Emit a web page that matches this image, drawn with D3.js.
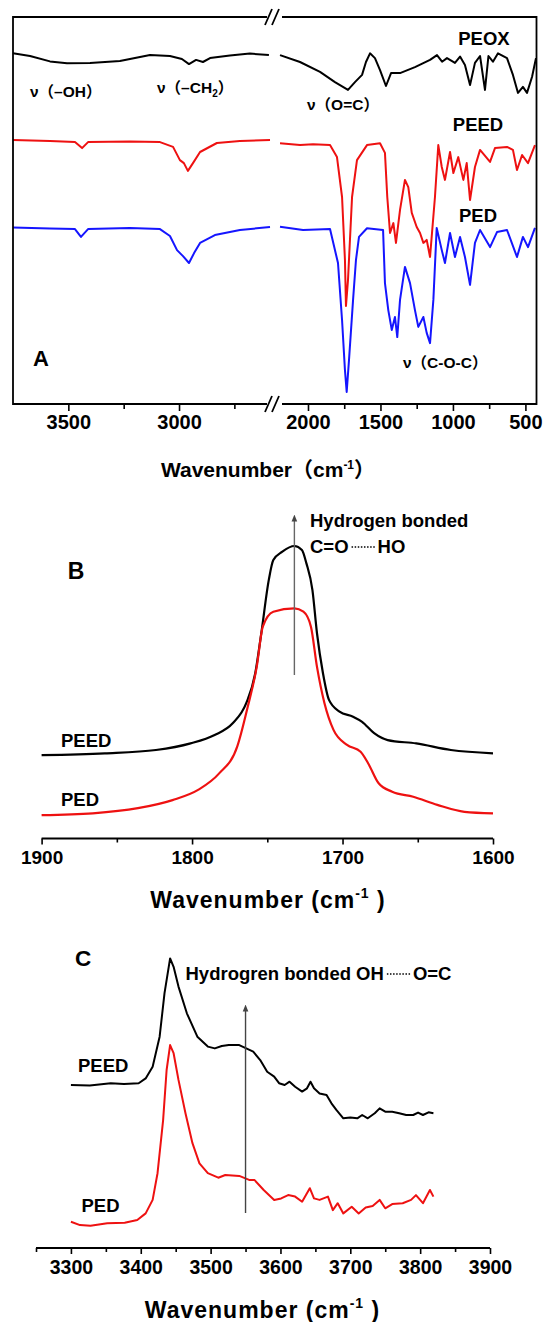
<!DOCTYPE html>
<html>
<head>
<meta charset="utf-8">
<script src="https://cdn.jsdelivr.net/npm/d3@7"></script>
<style>
  body { margin: 0; background: #fff; }
  svg { display: block; font-family: "Liberation Sans", Arial, "Noto Sans CJK SC", sans-serif; }
</style>
</head>
<body>
<svg width="543" height="1322"></svg>
<script>
// ---------- data : panel A (full FTIR, broken axis) ----------
const aTicksHigh = [3500, 3000];
const aTicksLow = [2000, 1500, 1000, 500];
const aMinorHigh = [3250, 2750];
const aMinorLow = [1750, 1250, 750];

// [wavenumber, transmittance a.u.]
const peoxHigh = [[3750,116.9],[3673,116],[3583,114.2],[3506,113.6],[3402,113.7],[3267,114.3],[3131,116.3],[3041,116],[2987,115],[2955,113.3],[2923,114.7],[2892,114],[2860,115.3],[2770,116.2],[2680,116.8],[2594,116.3]];
const peoxLow = [[2193,116.3],[2055,114],[1917,110.7],[1814,107.3],[1724,104.7],[1676,107.3],[1627,109.7],[1600,114],[1572,116.9],[1538,115.3],[1503,111.3],[1462,106],[1427,110.3],[1365,110.3],[1262,112.3],[1158,114.7],[1110,116.3],[1075,114.1],[1041,115.3],[1006,114.3],[986,113.7],[951,115.8],[917,113],[882,106.3],[848,113.7],[813,116],[779,104.7],[755,116],[724,114.1],[689,116.9],[627,115.3],[586,109.7],[551,103.7],[517,105.7],[489,103.7],[454,109.1],[427,115.3]];

const peedHigh = [[3750,88],[3583,87.7],[3470,87.3],[3438,85.3],[3411,87.3],[3222,87.5],[3086,87.3],[3027,85.7],[2996,81.3],[2978,80.3],[2960,77.7],[2937,80.3],[2905,84],[2829,87],[2725,87.7],[2589,88]];
const peedLow = [[2193,86.9],[2055,86.3],[1965,86.6],[1848,86.3],[1800,82.3],[1765,69],[1745,48],[1738,32.7],[1724,41.3],[1696,69],[1662,81.3],[1593,86.3],[1503,86.9],[1469,83.7],[1453,69],[1434,57],[1411,60.3],[1393,53.7],[1365,64.7],[1331,74.7],[1308,72.3],[1284,63.7],[1250,59],[1227,57],[1204,53.7],[1181,54.7],[1158,49],[1124,69],[1101,86.3],[1077,79],[1055,74.7],[1020,84],[997,77],[963,82.3],[928,74.7],[905,80.3],[882,68],[848,79],[813,84.7],[744,80.7],[710,85.3],[627,85.7],[586,84.7],[558,78],[523,83],[482,80.3],[434,86.3]];

const pedHigh = [[3750,58.8],[3583,58.5],[3470,58.3],[3443,55.7],[3411,58.3],[3222,58.7],[3086,58.3],[3041,56],[3009,51.3],[2982,49.3],[2955,47],[2932,50.3],[2905,53.7],[2838,56.3],[2725,58],[2589,59]];
const pedLow = [[2193,59.1],[2034,58],[1848,58.3],[1793,47],[1765,28],[1745,11.3],[1733,4],[1717,14.7],[1689,34.7],[1669,48],[1648,55.7],[1593,58.6],[1482,58],[1469,40.3],[1446,31.3],[1422,24.7],[1400,29],[1384,22.3],[1365,34.7],[1331,45.7],[1296,40.3],[1262,31.3],[1239,25.7],[1204,29],[1181,23.7],[1158,20.3],[1135,34.7],[1112,58.7],[1077,51.3],[1055,47],[1020,57],[986,49],[951,55.7],[917,49],[882,39.7],[848,53.7],[813,58],[744,52.3],[696,57.3],[627,58],[558,49],[517,55.7],[482,52.3],[434,58.7]];

// ---------- data : panel B (C=O region) ----------
const bTicks = [1900, 1800, 1700, 1600];
const bMinor = [1850, 1750, 1650];
const bPeed = [[1900,28.3],[1858,28.9],[1824,30],[1801,32.2],[1785,35],[1773,38.9],[1764,45.6],[1758,55.6],[1754,68.9],[1749,86.7],[1746,93.3],[1740,96.1],[1732,98],[1727,96.7],[1724,92.2],[1720,83.3],[1717,69],[1713,55.6],[1709,46.7],[1702,42.8],[1693,41.1],[1687,39.4],[1679,35.6],[1670,33.3],[1651,32.2],[1628,30],[1600,28.9]];
const bPed = [[1900,8.3],[1866,8.9],[1836,10.6],[1813,13.3],[1796,16.7],[1782,22.2],[1770,31.1],[1763,44.4],[1757,57.8],[1753,71.1],[1746,76.1],[1732,77.2],[1726,76.1],[1721,71.1],[1717,57.8],[1712,45.6],[1706,36.7],[1697,31.7],[1688,29.4],[1683,25.6],[1676,18.9],[1667,16.1],[1653,14.4],[1637,11.7],[1619,9.4],[1600,8.9]];

// ---------- data : panel C (OH region) ----------
const cTicks = [3300, 3400, 3500, 3600, 3700, 3800, 3900];
const cMinor = [3250, 3350, 3450, 3550, 3650, 3750, 3850];
const cPeed = [[3300,55],[3327,54.8],[3357,55.6],[3376,55.3],[3397,55.6],[3407,57.2],[3417,61.1],[3427,71.1],[3434,85.6],[3442,97.2],[3447,94.4],[3454,87.8],[3466,78.9],[3481,71.1],[3496,67.8],[3506,67.2],[3516,68],[3526,68.3],[3541,68.3],[3551,67.2],[3561,66.1],[3571,63.3],[3581,59.4],[3591,57.8],[3598,55.6],[3606,55],[3613,56.1],[3621,54.4],[3631,52.8],[3638,53.9],[3643,56.1],[3648,53.9],[3656,52.2],[3666,51.7],[3673,48.9],[3680,46.7],[3690,43.9],[3700,44.2],[3710,43.9],[3717,45],[3725,43.9],[3735,45.6],[3742,47.2],[3750,46.1],[3760,46.1],[3770,45.6],[3780,45],[3790,45],[3797,45.8],[3804,45],[3812,45.9],[3819,45.6]];
const cPed = [[3300,9.4],[3313,8.3],[3328,8.1],[3352,8.9],[3377,9.1],[3395,10],[3407,12.2],[3417,16.7],[3424,25.6],[3432,43.3],[3437,60],[3442,68.3],[3447,65.6],[3454,56.7],[3464,45.6],[3474,35.6],[3484,28.9],[3496,25.6],[3511,24.1],[3521,25],[3541,24.7],[3556,23.3],[3563,23.3],[3576,20],[3591,16.7],[3601,17.2],[3611,18.3],[3621,17.8],[3631,16.1],[3642,20.6],[3648,17.2],[3656,16.7],[3668,17.8],[3675,13.3],[3682,15.6],[3690,12.2],[3702,14.4],[3712,12.2],[3722,14.2],[3732,14.7],[3742,16.7],[3750,13.9],[3760,15.3],[3775,15.6],[3787,16.7],[3794,18.3],[3804,15.6],[3814,20],[3819,17.8]];

const RED = "#ee1111", BLUE = "#1515ff", BLACK = "#000";
const FONT = '"Liberation Sans", Arial, "Noto Sans CJK SC", sans-serif';

const svg = d3.select('svg');
svg.append('defs').append('marker')
  .attr('id', 'arrow')
  .attr('viewBox', '0 0 10 10')
  .attr('refX', 5).attr('refY', 5)
  .attr('markerWidth', 5).attr('markerHeight', 7)
  .attr('orient', 'auto')
  .append('path').attr('d', 'M0,1 L10,5 L0,9 Z').attr('fill', '#444');

function styleAxis(g, fs) {
  g.attr('font-family', FONT);
  g.select('.domain').remove();
  g.selectAll('line').attr('stroke', '#000').attr('stroke-width', 1.6);
  g.selectAll('text').attr('font-size', fs).attr('font-weight', 'bold').attr('fill', '#000');
}

function drawLine(g, data, xs, ys, color, w) {
  g.append('path')
    .datum(data)
    .attr('fill', 'none')
    .attr('stroke', color)
    .attr('stroke-width', w)
    .attr('stroke-linejoin', 'round')
    .attr('d', d3.line().x(d => xs(d[0])).y(d => ys(d[1])));
}

function label(x, y, txt, fs, anchor, weight) {
  return svg.append('text')
    .attr('x', x).attr('y', y)
    .attr('font-size', fs)
    .attr('font-weight', weight || 'bold')
    .attr('text-anchor', anchor || 'start')
    .text(txt);
}

// ================= Panel A =================
const aBox = {left: 13, right: 536.5, top: 17, bottom: 404, brkL: 267, brkR: 282};
const xAHigh = d3.scaleLinear().domain([3750, 2580]).range([13, 272]);
const xALow = d3.scaleLinear().domain([2200, 420]).range([279, 537]);
const yA = d3.scaleLinear().domain([0, 129]).range([aBox.bottom, aBox.top]);

const gA = svg.append('g');
drawLine(gA, peoxHigh, xAHigh, yA, BLACK, 2);
drawLine(gA, peoxLow, xALow, yA, BLACK, 2);
drawLine(gA, peedHigh, xAHigh, yA, RED, 2);
drawLine(gA, peedLow, xALow, yA, RED, 2);
drawLine(gA, pedHigh, xAHigh, yA, BLUE, 2);
drawLine(gA, pedLow, xALow, yA, BLUE, 2);

// frame with the break
const frame = gA.append('g').attr('stroke', '#000').attr('stroke-width', 1.8).attr('fill', 'none');
frame.append('path').attr('d',
  `M${aBox.brkL},${aBox.top} H${aBox.left} V${aBox.bottom} H${aBox.brkL}` +
  ` M${aBox.brkR},${aBox.top} H${aBox.right} V${aBox.bottom} H${aBox.brkR}`);
[aBox.top, aBox.bottom].forEach(yy => {
  frame.append('path').attr('d',
    `M${aBox.brkL - 2},${yy + 8} L${aBox.brkL + 5},${yy - 8} M${aBox.brkL + 5},${yy + 8} L${aBox.brkL + 12},${yy - 8}`);
});

// axes A
[[xAHigh, aTicksHigh, aMinorHigh], [xALow, aTicksLow, aMinorLow]].forEach(([xs, major, minor]) => {
  const gMaj = gA.append('g').attr('transform', `translate(0,${aBox.bottom})`)
    .call(d3.axisBottom(xs).tickValues(major).tickSize(7).tickPadding(4).tickSizeOuter(0).tickFormat(d3.format('d')));
  styleAxis(gMaj, 20);
  const gMin = gA.append('g').attr('transform', `translate(0,${aBox.bottom})`)
    .call(d3.axisBottom(xs).tickValues(minor).tickSize(5).tickFormat('').tickSizeOuter(0));
  styleAxis(gMin, 20);
});

const tA = label(268, 477, 'Wavenumber（cm', 21, 'middle');
tA.append('tspan').attr('dy', -8).attr('font-size', 12).text('-1');
tA.append('tspan').attr('dy', 8).text('）');

// annotations A
const nuFs = 15.5;
label(30, 97, 'ν（–OH）', nuFs);
const ch = label(157, 93, 'ν（–CH', nuFs);
ch.append('tspan').attr('dy', 4).attr('font-size', 10).text('2');
ch.append('tspan').attr('dy', -4).text('）');
label(307, 110, 'ν（O=C）', nuFs);
label(403, 368, 'ν（C-O-C）', nuFs);
label(484, 44.5, 'PEOX', 18.5, 'middle');
label(478, 130.5, 'PEED', 18.5, 'middle');
label(478, 221.5, 'PED', 18.5, 'middle');
label(41, 366, 'A', 22, 'middle');

// ================= Panel B =================
const bAxisY = 838.5;
const xB = d3.scaleLinear().domain([1900, 1600]).range([41.6, 493]);
const yB = d3.scaleLinear().domain([0, 110]).range([840, 510]);
const gB = svg.append('g');
const curveB = d3.line().curve(d3.curveMonotoneX).x(d => xB(d[0])).y(d => yB(d[1]));
gB.append('path').datum(bPeed).attr('fill', 'none').attr('stroke', BLACK).attr('stroke-width', 2.2).attr('d', curveB);
gB.append('path').datum(bPed).attr('fill', 'none').attr('stroke', RED).attr('stroke-width', 2.2).attr('d', curveB);

gB.append('line')
  .attr('x1', xB(1900)).attr('x2', xB(1600)).attr('y1', bAxisY).attr('y2', bAxisY)
  .attr('stroke', '#000').attr('stroke-width', 1.8);
const gBMaj = gB.append('g').attr('transform', `translate(0,${bAxisY})`)
  .call(d3.axisBottom(xB).tickValues(bTicks).tickSize(6).tickPadding(6).tickSizeOuter(0).tickFormat(d3.format('d')));
styleAxis(gBMaj, 19);
const gBMin = gB.append('g').attr('transform', `translate(0,${bAxisY})`)
  .call(d3.axisBottom(xB).tickValues(bMinor).tickSize(4).tickFormat('').tickSizeOuter(0));
styleAxis(gBMin, 19);

// arrow B
gB.append('line')
  .attr('x1', xB(1732)).attr('x2', xB(1732))
  .attr('y1', 675).attr('y2', 518)
  .attr('stroke', '#666').attr('stroke-width', 1.4)
  .attr('marker-end', 'url(#arrow)');

label(310, 527, 'Hydrogen bonded', 18.5);
const co = label(310, 552.5, 'C=O', 18.5);
const coW = co.node().getComputedTextLength();
svg.append('line').attr('x1', 310 + coW + 3).attr('x2', 310 + coW + 27)
  .attr('y1', 547).attr('y2', 547)
  .attr('stroke', '#000').attr('stroke-width', 1.5).attr('stroke-dasharray', '1.5,1.6');
label(310 + coW + 29, 552.5, 'HO', 18.5);

label(76, 579, 'B', 23, 'middle');
label(61, 747, 'PEED', 18.5);
label(61, 806, 'PED', 18.5);

function bigTitle(x, y) {
  const t = svg.append('text')
    .attr('x', x).attr('y', y)
    .attr('font-size', 23).attr('font-weight', 'bold')
    .attr('letter-spacing', 1)
    .attr('text-anchor', 'middle');
  t.append('tspan').text('Wavenumber (cm');
  t.append('tspan').attr('dy', -10).attr('font-size', 14).text('-1');
  t.append('tspan').attr('dy', 10).text(' )');
}
bigTitle(268, 908);

// ================= Panel C =================
const cAxisY = 1248;
const xC = d3.scaleLinear().domain([3250, 3900]).range([36, 490]);
const yC = d3.scaleLinear().domain([0, 110]).range([1250, 920]);
const gC = svg.append('g');
drawLine(gC, cPeed, xC, yC, BLACK, 2);
drawLine(gC, cPed, xC, yC, RED, 2);

gC.append('line')
  .attr('x1', xC(3250)).attr('x2', xC(3900)).attr('y1', cAxisY).attr('y2', cAxisY)
  .attr('stroke', '#000').attr('stroke-width', 1.8);
const gCMaj = gC.append('g').attr('transform', `translate(0,${cAxisY})`)
  .call(d3.axisBottom(xC).tickValues(cTicks).tickSize(6).tickPadding(6).tickSizeOuter(0).tickFormat(d3.format('d')));
styleAxis(gCMaj, 19.5);
const gCMin = gC.append('g').attr('transform', `translate(0,${cAxisY})`)
  .call(d3.axisBottom(xC).tickValues(cMinor).tickSize(4).tickFormat('').tickSizeOuter(0));
styleAxis(gCMin, 19.5);

gC.append('line')
  .attr('x1', xC(3550)).attr('x2', xC(3550))
  .attr('y1', 1213).attr('y2', 1008)
  .attr('stroke', '#444').attr('stroke-width', 1.4)
  .attr('marker-end', 'url(#arrow)');

const hb = label(185.5, 980, 'Hydrogren bonded OH', 18.5);
const hbW = hb.node().getComputedTextLength();
svg.append('line').attr('x1', 185.5 + hbW + 3).attr('x2', 185.5 + hbW + 27)
  .attr('y1', 974).attr('y2', 974)
  .attr('stroke', '#000').attr('stroke-width', 1.5).attr('stroke-dasharray', '1.5,1.6');
label(185.5 + hbW + 29, 980, 'O=C', 18.5);

label(83, 966, 'C', 22.5, 'middle');
label(78, 1072, 'PEED', 18.5);
label(81.5, 1212, 'PED', 18.5);

bigTitle(262.5, 1318);
</script>
</body>
</html>
